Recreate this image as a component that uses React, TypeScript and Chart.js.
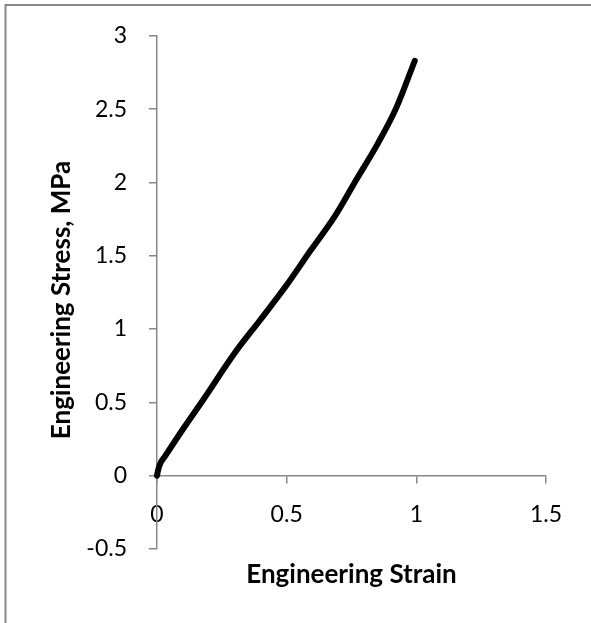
import React, { useEffect, useRef } from "react";
import { Chart, registerables } from "chart.js";

Chart.register(...registerables);

const strain = [0, 0.004, 0.012, 0.032, 0.103, 0.179, 0.301, 0.397, 0.5, 0.59, 0.686, 0.769, 0.853, 0.923, 0.994];
const stress = [0, 0.035, 0.08, 0.135, 0.325, 0.52, 0.84, 1.06, 1.3, 1.53, 1.77, 2.02, 2.27, 2.51, 2.83];
const xMin = 0;
const xMax = 1.5;
const xStep = 0.5;
const yMin = -0.5;
const yMax = 3;
const yStep = 0.5;
const xTitle = "Engineering Strain";
const yTitle = "Engineering Stress, MPa";

const FONT = "Lato, 'Open Sans', sans-serif";
const AXIS_COLOR = "#878787";

const fmt = (v: any) => String(Number(v));

export default function App() {
  const ref = useRef<HTMLCanvasElement | null>(null);

  useEffect(() => {
    if (!ref.current) return;
    const decor = {
      id: "decor",
      afterDraw(chart: any) {
        const ctx = chart.ctx;
        const area = chart.chartArea;
        ctx.save();
        ctx.strokeStyle = AXIS_COLOR;
        ctx.lineWidth = 2;
        ctx.beginPath();
        ctx.moveTo(5.5, 640);
        ctx.lineTo(5.5, 5);
        ctx.lineTo(640, 5);
        ctx.stroke();
        ctx.fillStyle = "#000";
        ctx.font = `bold 26px ${FONT}`;
        ctx.textAlign = "center";
        ctx.textBaseline = "middle";
        ctx.fillText(xTitle, (area.left + area.right) / 2, 575);
        ctx.translate(62, 300);
        ctx.rotate(-Math.PI / 2);
        ctx.fillText(yTitle, 0, 0);
        ctx.restore();
      },
    };

    const chart = new Chart(ref.current, {
      type: "scatter",
      data: {
        datasets: [
          {
            data: strain.map((x, i) => ({ x, y: stress[i] })),
            showLine: true,
            borderColor: "#000",
            backgroundColor: "#000",
            borderWidth: 6,
            borderCapStyle: "round",
            borderJoinStyle: "round",
            pointRadius: 0,
            cubicInterpolationMode: "monotone",
            clip: false,
          } as any,
        ],
      },
      options: {
        animation: false,
        responsive: false,
        devicePixelRatio: 1,
        layout: { padding: { left: 0, right: 45, top: 35, bottom: 74 } },
        plugins: { legend: { display: false }, tooltip: { enabled: false }, title: { display: false } },
        scales: {
          x: {
            type: "linear",
            position: { y: 0 } as any,
            min: xMin,
            max: xMax,
            ticks: {
              stepSize: xStep,
              padding: 18,
              color: "#000",
              font: { family: FONT, size: 23 },
              maxRotation: 0,
              callback: fmt,
            },
            grid: {
              display: true,
              drawOnChartArea: false,
              drawTicks: true,
              tickLength: 7,
              color: AXIS_COLOR,
              lineWidth: 1.5,
            },
            border: { display: true, color: AXIS_COLOR, width: 1.5 },
          },
          y: {
            type: "linear",
            position: "left",
            min: yMin,
            max: yMax,
            afterFit: (s: any) => {
              s.width = 157;
            },
            ticks: {
              stepSize: yStep,
              padding: 22,
              color: "#000",
              font: { family: FONT, size: 23 },
              callback: fmt,
            },
            grid: {
              display: true,
              drawOnChartArea: false,
              drawTicks: true,
              tickLength: 8,
              color: AXIS_COLOR,
              lineWidth: 1.5,
            },
            border: { display: true, color: AXIS_COLOR, width: 1.5 },
          },
        },
      },
      plugins: [decor],
    });
    return () => chart.destroy();
  }, []);

  return (
    <div style={{ position: "absolute", left: 0, top: 0, width: 591, height: 623, background: "#fff" }}>
      <canvas ref={ref} width={591} height={623} style={{ display: "block" }} />
    </div>
  );
}
